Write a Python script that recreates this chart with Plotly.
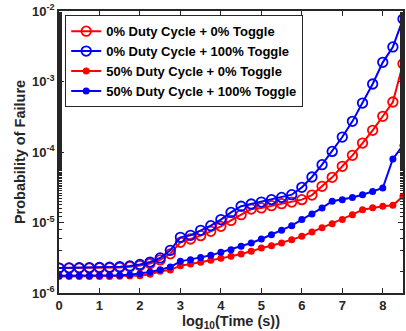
import plotly.graph_objects as go

x = [i * 0.25 for i in range(35)]

names = ["0% Duty Cycle + 0% Toggle", "0% Duty Cycle + 100% Toggle",
         "50% Duty Cycle + 0% Toggle", "50% Duty Cycle + 100% Toggle"]

dc0_t0 = [2.26e-6, 2.26e-6, 2.26e-6, 2.26e-6, 2.27e-6, 2.28e-6, 2.30e-6, 2.36e-6,
          2.45e-6, 2.62e-6, 2.95e-6, 3.60e-6, 5.23e-6, 5.83e-6, 6.51e-6, 7.50e-6,
          8.83e-6, 1.07e-5, 1.29e-5, 1.55e-5, 1.61e-5, 1.73e-5, 1.85e-5, 1.95e-5,
          2.11e-5, 2.45e-5, 3.26e-5, 4.37e-5, 6.27e-5, 8.97e-5, 1.34e-4, 2.03e-4,
          3.21e-4, 5.12e-4, 1.79e-3]
dc0_t100 = [2.26e-6, 2.27e-6, 2.28e-6, 2.29e-6, 2.30e-6, 2.32e-6, 2.36e-6, 2.42e-6,
            2.54e-6, 2.75e-6, 3.14e-6, 4.03e-6, 6.16e-6, 6.58e-6, 7.74e-6, 9.02e-6,
            1.10e-5, 1.39e-5, 1.70e-5, 1.83e-5, 1.95e-5, 2.11e-5, 2.27e-5, 2.48e-5,
            3.15e-5, 4.42e-5, 6.61e-5, 1.02e-4, 1.63e-4, 2.72e-4, 4.95e-4, 9.22e-4,
            1.87e-3, 3.09e-3, 7.70e-3]
dc50_t0 = [1.72e-6, 1.72e-6, 1.72e-6, 1.72e-6, 1.72e-6, 1.72e-6, 1.73e-6, 1.74e-6,
           1.76e-6, 1.84e-6, 2.03e-6, 2.12e-6, 2.44e-6, 2.58e-6, 2.72e-6, 2.91e-6,
           3.10e-6, 3.31e-6, 3.57e-6, 3.90e-6, 4.35e-6, 4.69e-6, 5.12e-6, 5.71e-6,
           6.36e-6, 7.33e-6, 8.44e-6, 9.62e-6, 1.10e-5, 1.29e-5, 1.52e-5, 1.62e-5,
           1.70e-5, 1.75e-5, 2.35e-5]
dc50_t100 = [1.76e-6, 1.76e-6, 1.76e-6, 1.76e-6, 1.77e-6, 1.78e-6, 1.79e-6, 1.82e-6,
             1.88e-6, 1.98e-6, 2.14e-6, 2.34e-6, 2.81e-6, 2.97e-6, 3.20e-6, 3.42e-6,
             3.77e-6, 4.12e-6, 4.59e-6, 5.12e-6, 5.83e-6, 6.72e-6, 7.74e-6, 9.02e-6,
             1.10e-5, 1.32e-5, 1.61e-5, 2.00e-5, 2.11e-5, 2.27e-5, 2.48e-5, 2.75e-5,
             3.08e-5, 7.97e-5, 1.24e-4]

xticks = [0, 1, 2, 3, 4, 5, 6, 7, 8]
yticks = [1e-6, 1e-5, 1e-4, 1e-3, 1e-2]
yticktext = ["10<sup>-6</sup>", "10<sup>-5</sup>", "10<sup>-4</sup>", "10<sup>-3</sup>", "10<sup>-2</sup>"]

series = [dc0_t0, dc0_t100, dc50_t0, dc50_t100]
colors = ["#FF0000", "#0000FF", "#FF0000", "#0000FF"]
open_m = [True, True, False, False]

fig = go.Figure()
for name, ys, c, op in zip(names, series, colors, open_m):
    if op:
        marker = dict(symbol="circle-open", size=9.5, color=c, line=dict(width=1.8, color=c))
    else:
        marker = dict(symbol="circle", size=7, color=c, line=dict(width=0, color=c))
    fig.add_trace(go.Scatter(x=x, y=ys, name=name, mode="lines+markers",
                             line=dict(color=c, width=2), marker=marker))

axcol = "#262626"
fig.update_layout(
    width=406, height=331,
    margin=dict(l=59, r=1, t=11, b=38),
    paper_bgcolor="white", plot_bgcolor="white",
    font=dict(family="Liberation Sans", size=12, color=axcol),
    showlegend=True,
    legend=dict(x=0.018, y=0.985, xanchor="left", yanchor="top",
                bgcolor="white", bordercolor=axcol, borderwidth=1,
                font=dict(family="Liberation Sans", size=13, color="black", weight="bold"),
                tracegroupgap=0, itemwidth=30),
)
fig.update_xaxes(range=[0, 8.5], tickvals=xticks, ticks="inside", ticklen=5,
                 tickwidth=1.2, tickcolor=axcol, showline=True, linecolor=axcol,
                 linewidth=1.5, mirror="ticks", showgrid=False, zeroline=False,
                 tickfont=dict(size=13, weight="bold", color=axcol),
                 title=dict(text="log<sub>10</sub>(Time (s))", standoff=1,
                            font=dict(size=14.5, weight="bold", color=axcol)))
fig.update_yaxes(type="log", range=[-6, -2], tickvals=yticks, ticktext=yticktext,
                 ticks="inside", ticklen=5, tickwidth=1.2, tickcolor=axcol,
                 showline=True, linecolor=axcol, linewidth=1.5, mirror="ticks",
                 showgrid=False, zeroline=False,
                 minor=dict(ticks="inside", ticklen=3, tickcolor=axcol, showgrid=False),
                 tickfont=dict(size=13, weight="bold", color=axcol),
                 title=dict(text="Probability of Failure", standoff=3,
                            font=dict(size=14.5, weight="bold", color=axcol)))

fig.write_html("out.html")
